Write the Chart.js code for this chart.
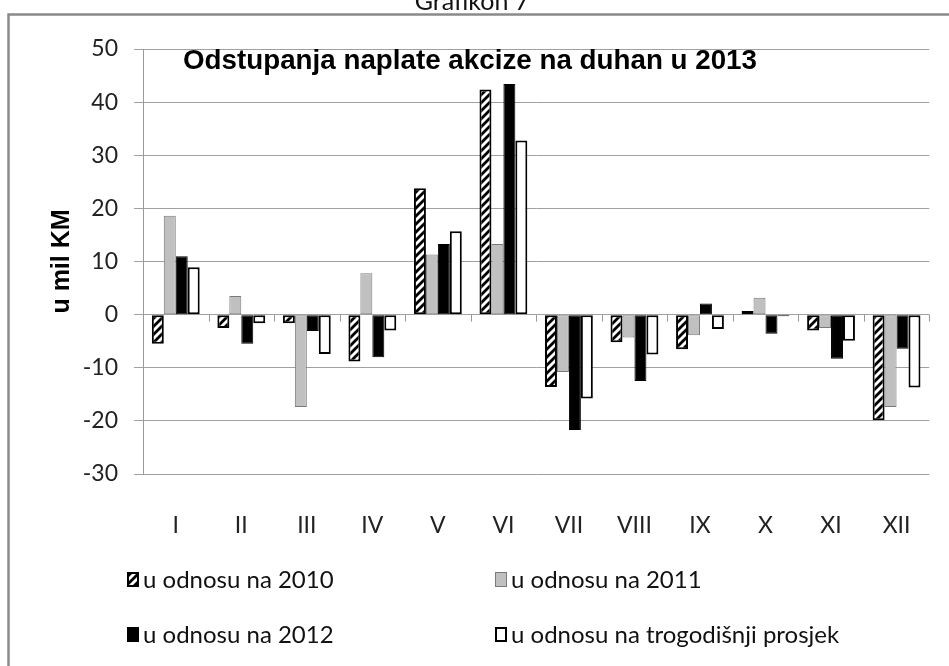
<!DOCTYPE html>
<html>
<head>
<meta charset="utf-8">
<script src="https://cdn.jsdelivr.net/npm/chart.js@4.4.1/dist/chart.umd.min.js"></script>
<style>
  html, body { margin: 0; padding: 0; background: #fff; }
  #wrap { width: 949px; height: 666px; position: relative; }
</style>
</head>
<body>
<div id="wrap"><canvas id="chart" width="949" height="666"></canvas></div>
<script>
// podaci (u mil KM), procijenjeno sa slike
const months = ['I', 'II', 'III', 'IV', 'V', 'VI', 'VII', 'VIII', 'IX', 'X', 'XI', 'XII'];
const vs2010 = [-5.5, -2.5, -1.6, -8.8, 23.8, 42.4, -13.6, -5.2, -6.5, 0.7, -3.0, -19.9];
const vs2011 = [18.6, 3.5, -17.4, 7.8, 11.3, 13.3, -10.8, -4.3, -3.9, 3.2, -2.5, -17.4];
const vs2012 = [11.0, -5.5, -3.1, -8.0, 13.3, 43.4, -21.7, -12.5, 2.1, -3.6, -8.3, -6.4];
const vsAvg = [8.9, -1.6, -7.4, -3.0, 15.7, 32.8, -15.8, -7.5, -2.7, -0.3, -4.9, -13.7];
const seriesNames = ['u odnosu na 2010', 'u odnosu na 2011', 'u odnosu na 2012', 'u odnosu na trogodišnji prosjek'];
const yMin = -30, yMax = 50, yStep = 10;

// kosa šrafura za 2010
function makeHatch() {
    const c = document.createElement('canvas');
    c.width = 8; c.height = 8;
    const g = c.getContext('2d');
    g.fillStyle = '#fff';
    g.fillRect(0, 0, 8, 8);
    g.strokeStyle = '#000';
    g.lineWidth = 2.8;
    g.beginPath();
    g.moveTo(-1, 9); g.lineTo(9, -1);
    g.moveTo(-1, 1); g.lineTo(1, -1);
    g.moveTo(7, 9); g.lineTo(9, 7);
    g.stroke();
    return g.createPattern(c, 'repeat');
}
const hatch = makeHatch();

const extras = {
    id: 'extras',
    beforeDraw(chart) {
        const ctx = chart.ctx;
        ctx.save();
        ctx.fillStyle = '#fff';
        ctx.fillRect(0, 0, chart.width, chart.height);
        // okvir
        ctx.strokeStyle = '#8a8a8a';
        ctx.lineWidth = 2.5;
        ctx.beginPath();
        ctx.moveTo(8.5, 666);
        ctx.lineTo(8.5, 14.5);
        ctx.lineTo(949, 14.5);
        ctx.stroke();
        // naslov iznad okvira (odrezan)
        ctx.fillStyle = '#111';
        ctx.font = '25px Lato';
        ctx.textAlign = 'center';
        ctx.textBaseline = 'alphabetic';
        ctx.fillText('Grafikon 7', 472, 10);
        ctx.restore();
    },
    afterDatasetsDraw(chart) {
        const ctx = chart.ctx;
        const x = chart.scales.x, y = chart.scales.y;
        const y0 = y.getPixelForValue(0);
        ctx.save();
        ctx.strokeStyle = '#999';
        ctx.lineWidth = 1;
        ctx.beginPath();
        for (let i = 0; i <= months.length; i++) {
            const px = Math.round(x.left + i * x.width / months.length) + 0.5;
            ctx.moveTo(px, y0);
            ctx.lineTo(px, y0 + 7);
        }
        ctx.stroke();
        ctx.restore();
    },
    afterDraw(chart) {
        const ctx = chart.ctx;
        ctx.save();
        // naslov grafikona
        const title = 'Odstupanja naplate akcize na duhan u 2013';
        ctx.font = 'bold 28px "Liberation Sans", Arial, sans-serif';
        ctx.fillStyle = '#000';
        ctx.textBaseline = 'alphabetic';
        ctx.textAlign = 'left';
        const w = ctx.measureText(title).width;
        ctx.translate(183, 69);
        ctx.scale(574 / w, 1);
        ctx.fillText(title, 0, 0);
        ctx.restore();

        // legenda 2x2
        const pos = [[127, 579], [495, 579], [127, 634], [495, 634]];
        ctx.save();
        ctx.font = '24px Lato';
        ctx.textBaseline = 'middle';
        ctx.textAlign = 'left';
        chart.data.datasets.forEach((ds, i) => {
            const [bx, by] = pos[i];
            ctx.fillStyle = ds.backgroundColor;
            ctx.fillRect(bx, by - 7, 12, 15);
            ctx.strokeStyle = ds.borderColor;
            ctx.lineWidth = ds.borderWidth;
            ctx.strokeRect(bx + ds.borderWidth / 2, by - 7 + ds.borderWidth / 2, 12 - ds.borderWidth, 15 - ds.borderWidth);
            ctx.fillStyle = '#111';
            ctx.fillText(ds.label, bx + 16, by + 1);
        });
        ctx.restore();
    }
};

const ctx = document.getElementById('chart').getContext('2d');
window.myChart = new Chart(ctx, {
    type: 'bar',
    data: {
        labels: months,
        datasets: [
            { label: seriesNames[0], data: vs2010, backgroundColor: hatch, borderColor: '#000', borderWidth: 2 },
            { label: seriesNames[1], data: vs2011, backgroundColor: '#c0c0c0', borderColor: '#7a7a7a', borderWidth: 1 },
            { label: seriesNames[2], data: vs2012, backgroundColor: '#000', borderColor: '#000', borderWidth: 1 },
            { label: seriesNames[3], data: vsAvg, backgroundColor: '#fff', borderColor: '#000', borderWidth: 2 }
        ]
    },
    options: {
        responsive: false,
        animation: false,
        devicePixelRatio: 1,
        layout: { padding: { left: 0, right: 13, top: 49, bottom: 0 } },
        datasets: {
            bar: { categoryPercentage: 0.73, barPercentage: 1.0, borderSkipped: false }
        },
        plugins: {
            legend: { display: false },
            title: { display: false },
            tooltip: { enabled: false }
        },
        scales: {
            x: {
                grid: { display: false, drawTicks: false },
                border: { display: false },
                ticks: { font: { family: 'Lato', size: 23 }, color: '#222', padding: 38, maxRotation: 0 },
                afterFit: (s) => { s.height = 192; }
            },
            y: {
                min: yMin,
                max: yMax,
                ticks: { stepSize: yStep, font: { family: 'Lato', size: 23 }, color: '#222', padding: 16 },
                grid: { color: '#a0a0a0', lineWidth: 1, tickLength: 9 },
                border: { color: '#999', width: 1 },
                title: {
                    display: true,
                    text: 'u mil KM',
                    font: { family: '"Liberation Sans", Arial', size: 25, weight: 'bold' },
                    color: '#000',
                    padding: { top: 47, bottom: 0 }
                },
                afterFit: (s) => { s.width = 143; }
            }
        }
    },
    plugins: [extras]
});
</script>
</body>
</html>
